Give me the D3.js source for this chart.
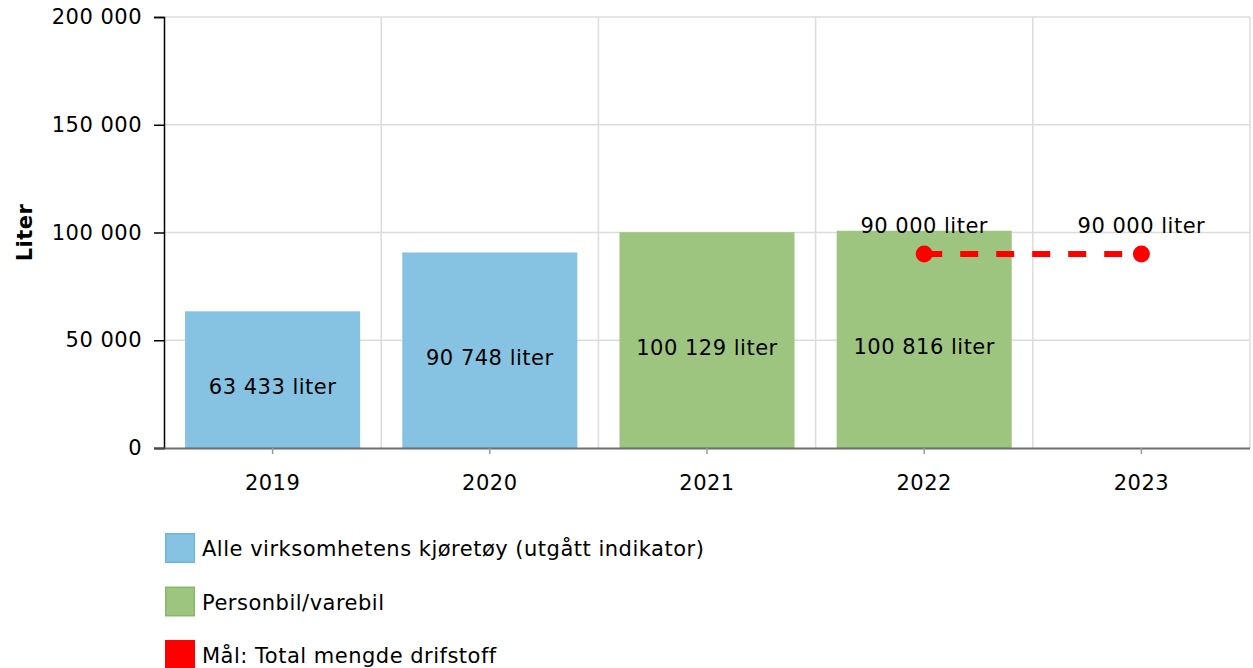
<!DOCTYPE html>
<html lang="no">
<head>
    <meta charset="UTF-8">
    <title>Drivstoff</title>
    <script src="https://d3js.org/d3.v7.min.js"></script>
    <style>
        body { margin: 0; background: #fff; }
        text { font-family: "DejaVu Sans", Verdana, sans-serif; letter-spacing: 0.5px; }
    </style>
</head>
<body>
    <div id="chart"></div>

    <script>
        // Data
        const years = ["2019", "2020", "2021", "2022", "2023"];
        const alleYears = ["2019", "2020"];
        const alleValues = [63433, 90748];
        const personYears = ["2021", "2022"];
        const personValues = [100129, 100816];
        const maalYears = ["2022", "2023"];
        const maalValues = [90000, 90000];
        const yTicks = [0, 50000, 100000, 150000, 200000];
        const legendLabels = ["Alle virksomhetens kjøretøy (utgått indikator)", "Personbil/varebil", "Mål: Total mengde drifstoff"];
        const legendColors = ["#86c3e2", "#9dc580", "#ff0000"];
        const legendStrokes = ["#6cb6dd", "#88b96a", "#ff0000"];

        const width = 1253, height = 668;
        const margin = { left: 164, right: 3, top: 17, bottom: 220 };
        const fs = 21;

        const svg = d3.select("#chart").append("svg")
            .attr("width", width)
            .attr("height", height);

        const x = d3.scaleBand()
            .domain(years)
            .range([margin.left, width - margin.right])
            .paddingInner(0.194)
            .paddingOuter(0.097);

        const y = d3.scaleLinear()
            .domain([0, 200000])
            .range([height - margin.bottom, margin.top]);

        const fmt = v => d3.format(",")(v).replace(/,/g, " ");

        // gridlines
        svg.append("g").selectAll("line").data(yTicks.slice(1))
            .enter().append("line")
            .attr("x1", margin.left).attr("x2", width - margin.right)
            .attr("y1", d => y(d)).attr("y2", d => y(d))
            .attr("stroke", "#dcdcdc").attr("stroke-width", 1.5);

        const step = x.step();
        const x0 = x.range()[0];
        svg.append("g").selectAll("line").data(d3.range(1, years.length + 1))
            .enter().append("line")
            .attr("x1", i => x0 + i * step).attr("x2", i => x0 + i * step)
            .attr("y1", margin.top).attr("y2", y(0))
            .attr("stroke", "#dcdcdc").attr("stroke-width", 1.5);

        // bars
        function drawBars(ys, vs, color) {
            const data = ys.map((d, i) => ({ year: d, value: vs[i] }));
            const g = svg.append("g");
            g.selectAll("rect").data(data).enter().append("rect")
                .attr("x", d => x(d.year))
                .attr("width", x.bandwidth())
                .attr("y", d => y(d.value))
                .attr("height", d => y(0) - y(d.value))
                .attr("fill", color);
            g.selectAll("text").data(data).enter().append("text")
                .attr("x", d => x(d.year) + x.bandwidth() / 2)
                .attr("y", d => (y(d.value) + y(0)) / 2 + 14.5)
                .attr("text-anchor", "middle")
                .attr("font-size", fs)
                .attr("fill", "#000")
                .text(d => fmt(d.value) + " liter");
        }
        drawBars(alleYears, alleValues, legendColors[0]);
        drawBars(personYears, personValues, legendColors[1]);

        // y axis
        const yAxis = svg.append("g")
            .attr("transform", `translate(${margin.left},0)`)
            .call(d3.axisLeft(y).tickValues(yTicks).tickFormat(fmt).tickSize(10).tickPadding(12));
        yAxis.select(".domain").attr("stroke", "#000").attr("stroke-width", 1.5);
        yAxis.selectAll(".tick line").attr("stroke", "#000").attr("stroke-width", 1.5);
        yAxis.selectAll("text").attr("font-size", fs).attr("fill", "#000")
            .style("font-family", "DejaVu Sans, sans-serif");

        // x axis
        const xAxis = svg.append("g")
            .attr("transform", `translate(0,${y(0)})`)
            .call(d3.axisBottom(x).tickSizeInner(6).tickSizeOuter(0).tickPadding(21));
        xAxis.select(".domain").attr("stroke", "#555").attr("stroke-width", 2).attr("stroke-opacity", 0.85);
        xAxis.selectAll(".tick line").attr("stroke", "#999").attr("stroke-width", 1.5);
        xAxis.selectAll("text").attr("font-size", fs).attr("fill", "#000")
            .style("font-family", "DejaVu Sans, sans-serif");
        // extend x axis line to left edge of y axis
        xAxis.select(".domain").attr("d", `M${margin.left - 10},0.5H${width - margin.right}`);

        // y title
        svg.append("text")
            .attr("transform", `translate(32,${(y(0) + y(200000)) / 2}) rotate(-90)`)
            .attr("text-anchor", "middle")
            .attr("font-size", fs)
            .attr("font-weight", "bold")
            .text("Liter");

        // target line
        const maal = maalYears.map((d, i) => ({ year: d, value: maalValues[i] }));
        const cx = d => x(d.year) + x.bandwidth() / 2;
        svg.append("path")
            .datum(maal)
            .attr("d", d3.line().x(cx).y(d => y(d.value)))
            .attr("fill", "none")
            .attr("stroke", "#ff0000")
            .attr("stroke-width", 6)
            .attr("stroke-dasharray", "18,18");
        svg.append("g").selectAll("circle").data(maal).enter().append("circle")
            .attr("cx", cx)
            .attr("cy", d => y(d.value))
            .attr("r", 8.5)
            .attr("fill", "#ff0000");
        svg.append("g").selectAll("text").data(maal).enter().append("text")
            .attr("x", cx)
            .attr("y", d => y(d.value) - 21)
            .attr("text-anchor", "middle")
            .attr("font-size", fs)
            .text(d => fmt(d.value) + " liter");

        // legend
        const legend = svg.append("g").selectAll("g").data(legendLabels)
            .enter().append("g")
            .attr("transform", (d, i) => `translate(165,${533 + i * 53.5})`);
        legend.append("rect")
            .attr("x", 0.75).attr("y", 0.75)
            .attr("width", 28.5).attr("height", 28.5)
            .attr("fill", (d, i) => legendColors[i])
            .attr("stroke", (d, i) => legendStrokes[i])
            .attr("stroke-width", 1.5);
        legend.append("text")
            .attr("x", 37)
            .attr("y", 23)
            .attr("font-size", fs)
            .text(d => d);
    </script>
</body>
</html>
